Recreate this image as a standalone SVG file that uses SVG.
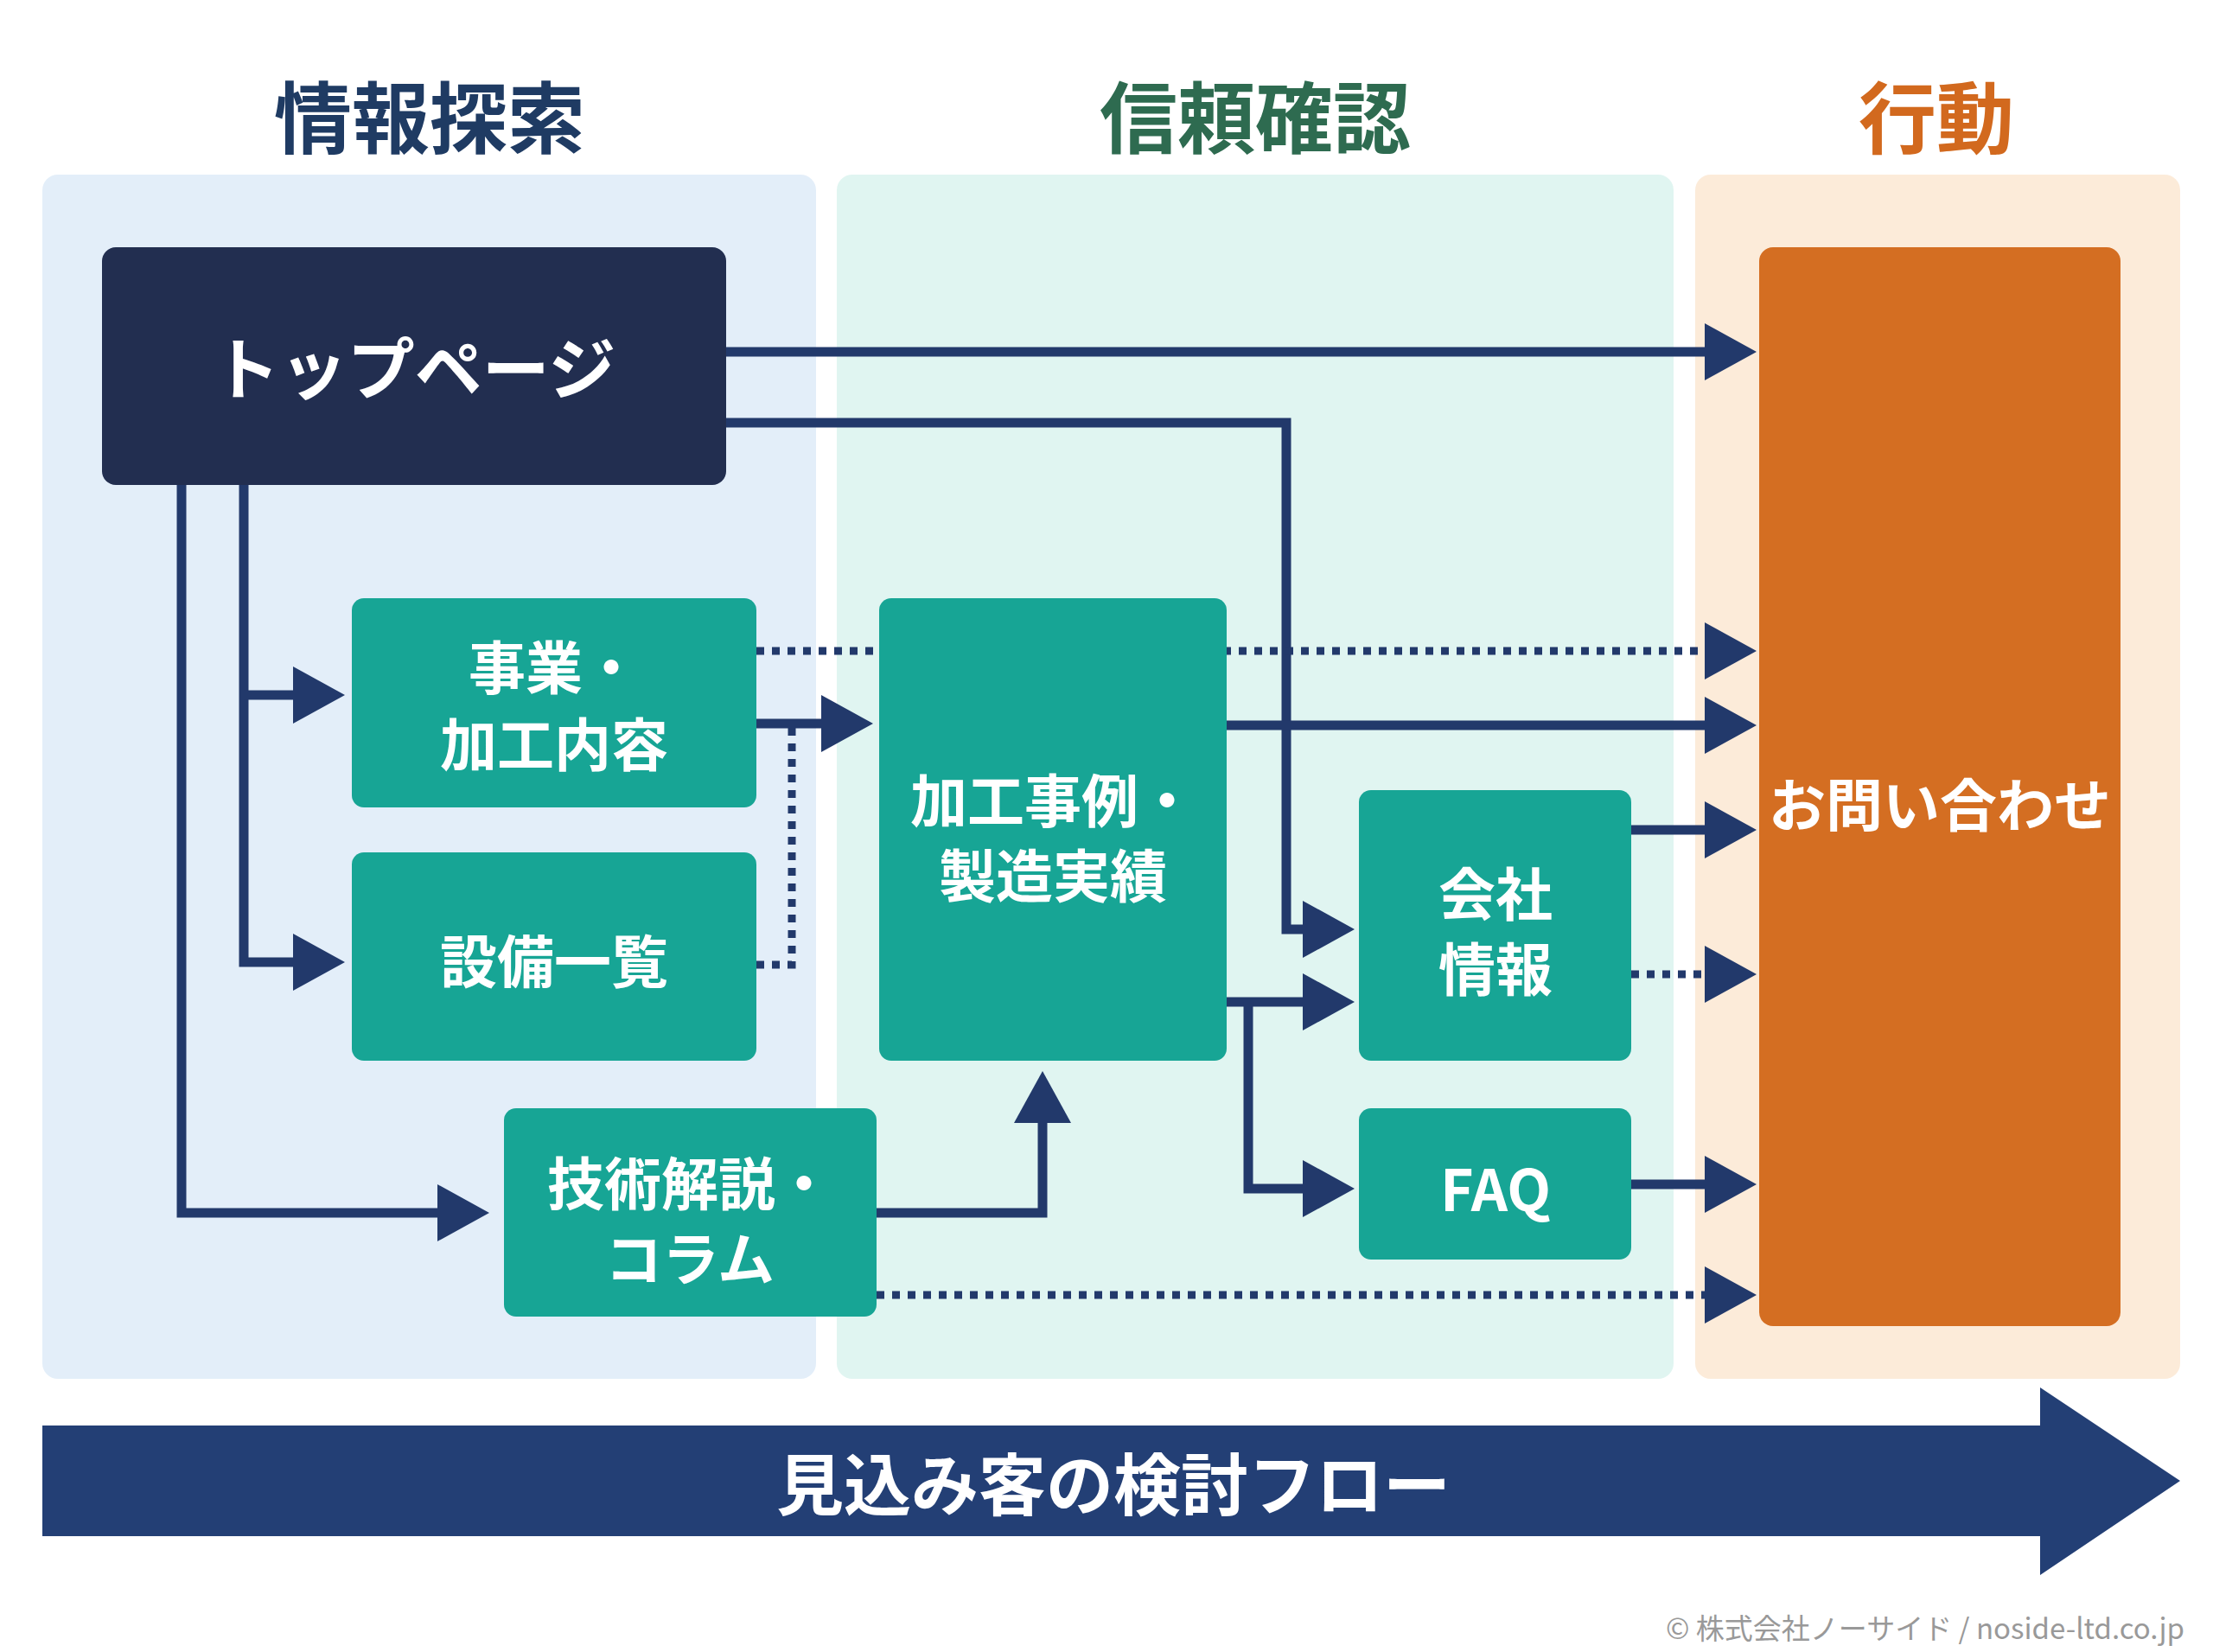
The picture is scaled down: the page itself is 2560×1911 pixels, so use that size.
<svg xmlns="http://www.w3.org/2000/svg" width="2560" height="1911" viewBox="0 0 2560 1911">
<defs>
<style>
.h{font-family:"Noto Sans CJK JP","Noto Sans",sans-serif;font-weight:700;text-anchor:middle;dominant-baseline:central}
.n{fill:#17a595}
.t{fill:#fff;font-size:66px}
.c{fill:none;stroke:#22396b;stroke-width:11}
.d{fill:none;stroke:#22396b;stroke-width:9;stroke-dasharray:9 9}
</style>
<marker id="a" markerUnits="userSpaceOnUse" markerWidth="60" markerHeight="66" refX="10" refY="33" orient="auto" viewBox="0 0 60 66"><path d="M0,0 L60,33 L0,66 z" fill="#22396b"/></marker>
</defs>
<rect width="2560" height="1911" fill="#fff"/>
<rect x="49" y="202" width="895" height="1393" rx="18" fill="#e3eef9"/>
<rect x="968" y="202" width="968" height="1393" rx="18" fill="#e0f5f1"/>
<rect x="1961" y="202" width="561" height="1393" rx="18" fill="#fcebd9"/>
<text class="h" x="497" y="131" font-size="90" fill="#1f3b63">情報探索</text>
<text class="h" x="1452" y="131" font-size="90" fill="#2e6b50">信頼確認</text>
<text class="h" x="2240" y="131" font-size="90" fill="#d2691e">行動</text>
<g id="connectors">
<path class="c" d="M840,407 H1982" marker-end="url(#a)"/>
<path class="c" d="M840,489 H1488 V1075 H1517" marker-end="url(#a)"/>
<path class="c" d="M210,561 V1403 H516" marker-end="url(#a)"/>
<path class="c" d="M282,561 V1113 H349" marker-end="url(#a)"/>
<path class="c" d="M282,804 H349" marker-end="url(#a)"/>
<path class="c" d="M875,837 H960" marker-end="url(#a)"/>
<path class="d" d="M875,753 H1982" marker-end="url(#a)"/>
<path class="d" d="M875,1116 H916 V837"/>
<path class="c" d="M1419,839 H1982" marker-end="url(#a)"/>
<path class="c" d="M1887,960 H1982" marker-end="url(#a)"/>
<path class="d" d="M1887,1127 H1982" marker-end="url(#a)"/>
<path class="c" d="M1419,1159 H1517" marker-end="url(#a)"/>
<path class="c" d="M1444,1159 V1375 H1517" marker-end="url(#a)"/>
<path class="c" d="M1887,1370 H1982" marker-end="url(#a)"/>
<path class="c" d="M1014,1403 H1206 V1289" marker-end="url(#a)"/>
<path class="d" d="M1014,1498 H1982" marker-end="url(#a)"/>
</g>
<g id="top"><rect x="118" y="286" width="722" height="275" rx="16" fill="#222e50"/><text class="h" x="479" y="422" font-size="78" fill="#fff">トップページ</text></g>
<g id="jigyo"><rect class="n" x="407" y="692" width="468" height="242" rx="14"/><text class="h t" x="641" y="768">事業・</text><text class="h t" x="641" y="857">加工内容</text></g>
<g id="setsubi"><rect class="n" x="407" y="986" width="468" height="241" rx="14"/><text class="h t" x="641" y="1108">設備一覧</text></g>
<g id="gijutsu"><rect class="n" x="583" y="1282" width="431" height="241" rx="14"/><text class="h t" x="798" y="1365">技術解説・</text><text class="h t" x="798" y="1452">コラム</text></g>
<g id="jirei"><rect class="n" x="1017" y="692" width="402" height="535" rx="14"/><text class="h t" x="1218" y="922">加工事例・</text><text class="h t" x="1218" y="1009">製造実績</text></g>
<g id="kaisha"><rect class="n" x="1572" y="914" width="315" height="313" rx="14"/><text class="h t" x="1730" y="1030">会社</text><text class="h t" x="1730" y="1117">情報</text></g>
<g id="faq"><rect class="n" x="1572" y="1282" width="315" height="175" rx="14"/><text class="h t" x="1730" y="1372">FAQ</text></g>
<g id="toiawase"><rect x="2035" y="286" width="418" height="1248" rx="16" fill="#d46e22"/><text class="h t" x="2244" y="927">お問い合わせ</text></g>
<g id="flow"><path d="M49,1649 H2360 V1605 L2522,1713 L2360,1822 V1777 H49 z" fill="#233f75"/><text class="h" x="1288" y="1713" font-size="78" fill="#fff">見込み客の検討フロー</text></g>
<text x="2527" y="1882" font-family="Noto Sans CJK JP,Noto Sans,sans-serif" font-size="33" fill="#999" text-anchor="end" dominant-baseline="central">© 株式会社ノーサイド / noside-ltd.co.jp</text>
</svg>
